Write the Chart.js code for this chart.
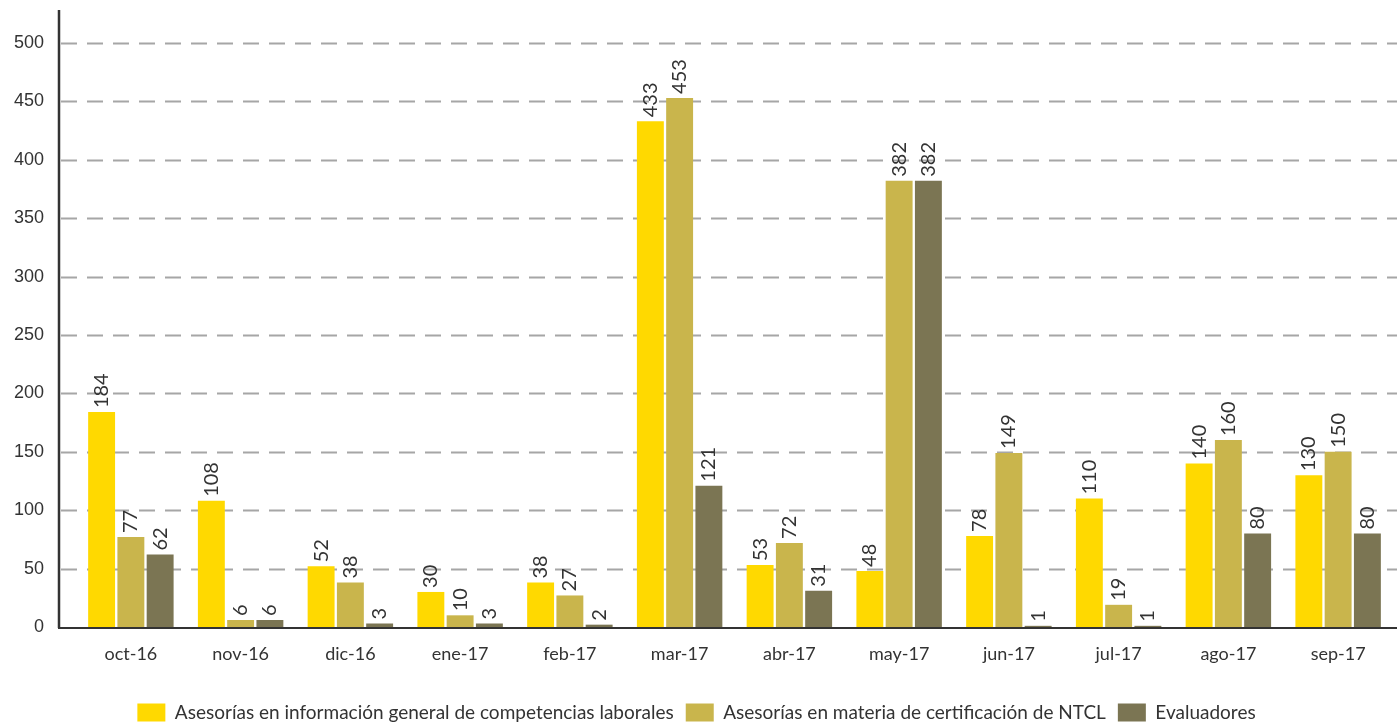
<!DOCTYPE html>
<html>
<head>
<meta charset="utf-8">
<script src="https://cdn.jsdelivr.net/npm/chart.js@4.4.0/dist/chart.umd.min.js"></script>
<style>
  html, body { margin: 0; padding: 0; background: #fff; }
  #wrap { width: 1397px; height: 723px; }
</style>
</head>
<body>
<div id="wrap"><canvas id="grafico"></canvas></div>
<script>
// Datos
const meses = ['oct-16', 'nov-16', 'dic-16', 'ene-17', 'feb-17', 'mar-17', 'abr-17', 'may-17', 'jun-17', 'jul-17', 'ago-17', 'sep-17'];
const asesoriasInfo = [184, 108, 52, 30, 38, 433, 53, 48, 78, 110, 140, 130];
const asesoriasNTCL = [77, 6, 38, 10, 27, 453, 72, 382, 149, 19, 160, 150];
const evaluadores = [62, 6, 3, 3, 2, 121, 31, 382, 1, 1, 80, 80];
const ticksY = [0, 50, 100, 150, 200, 250, 300, 350, 400, 450, 500];

// Ejes dibujados a mano (la línea vertical queda a la izquierda del área)
const ejesPlugin = {
    id: 'ejes',
    afterDatasetsDraw(chart) {
        const ctx = chart.ctx;
        const area = chart.chartArea;
        ctx.save();
        ctx.strokeStyle = '#333';
        ctx.lineWidth = 2.5;
        ctx.beginPath();
        ctx.moveTo(59, 10);
        ctx.lineTo(59, area.bottom + 1);
        ctx.stroke();
        ctx.lineWidth = 2;
        ctx.beginPath();
        ctx.moveTo(58, area.bottom + 1);
        ctx.lineTo(chart.width, area.bottom + 1);
        ctx.stroke();
        ctx.restore();
    }
};

// Etiquetas de valor giradas encima de cada barra
const etiquetasPlugin = {
    id: 'etiquetas',
    afterDatasetsDraw(chart) {
        const ctx = chart.ctx;
        ctx.save();
        ctx.fillStyle = '#333';
        ctx.font = '20px Lato';
        ctx.textAlign = 'left';
        ctx.textBaseline = 'middle';
        chart.data.datasets.forEach(function (ds, i) {
            chart.getDatasetMeta(i).data.forEach(function (bar, j) {
                ctx.save();
                ctx.translate(bar.x, bar.y - 4);
                ctx.rotate(-Math.PI / 2);
                ctx.fillText(String(ds.data[j]), 0, 0);
                ctx.restore();
            });
        });
        ctx.restore();
    }
};

// Líneas de cuadrícula punteadas desde el eje
const cuadriculaPlugin = {
    id: 'cuadricula',
    beforeDatasetsDraw(chart) {
        const ctx = chart.ctx;
        const y = chart.scales.y;
        ctx.save();
        ctx.strokeStyle = '#a6a6a6';
        ctx.lineWidth = 2;
        ctx.setLineDash([16, 10]);
        ticksY.forEach(function (v) {
            if (v === 0) return;
            const py = Math.round(y.getPixelForValue(v)) + 0.5;
            ctx.beginPath();
            ctx.moveTo(61, py);
            ctx.lineTo(chart.width, py);
            ctx.stroke();
        });
        ctx.restore();
    }
};

new Chart(document.getElementById('grafico'), {
    type: 'bar',
    data: {
        labels: meses,
        datasets: [{
            label: 'Asesorías en información general de competencias laborales',
            data: asesoriasInfo,
            backgroundColor: 'rgb(255, 217, 0)'
        }, {
            label: 'Asesorías en materia de certificación de NTCL',
            data: asesoriasNTCL,
            backgroundColor: 'rgb(201, 181, 76)'
        }, {
            label: 'Evaluadores',
            data: evaluadores,
            backgroundColor: 'rgb(123, 117, 83)'
        }]
    },
    options: {
        responsive: true,
        maintainAspectRatio: false,
        animation: false,
        categoryPercentage: 0.8,
        barPercentage: 0.92,
        layout: {
            padding: { top: 43, right: 4, bottom: -9, left: 0 }
        },
        scales: {
            x: {
                grid: { display: false, drawTicks: false },
                border: { display: false },
                afterFit: function (axis) {
                    axis.height = 64;
                },
                ticks: {
                    color: '#333',
                    font: { family: 'Lato', size: 18 },
                    padding: 16,
                    maxRotation: 0
                }
            },
            y: {
                min: 0,
                max: 500,
                afterBuildTicks: function (axis) {
                    axis.ticks = ticksY.map(function (v) { return { value: v }; });
                },
                afterFit: function (axis) {
                    axis.width = 76;
                },
                grid: { display: false, drawTicks: false },
                border: { display: false },
                ticks: {
                    color: '#333',
                    font: { family: 'Liberation Sans', size: 18 },
                    padding: 32
                }
            }
        },
        plugins: {
            tooltip: { enabled: false },
            legend: {
                position: 'bottom',
                labels: {
                    boxWidth: 28,
                    boxHeight: 18,
                    color: '#333',
                    font: { family: 'Lato', size: 19 },
                    padding: 12
                }
            }
        }
    },
    plugins: [cuadriculaPlugin, ejesPlugin, etiquetasPlugin]
});
</script>
</body>
</html>
